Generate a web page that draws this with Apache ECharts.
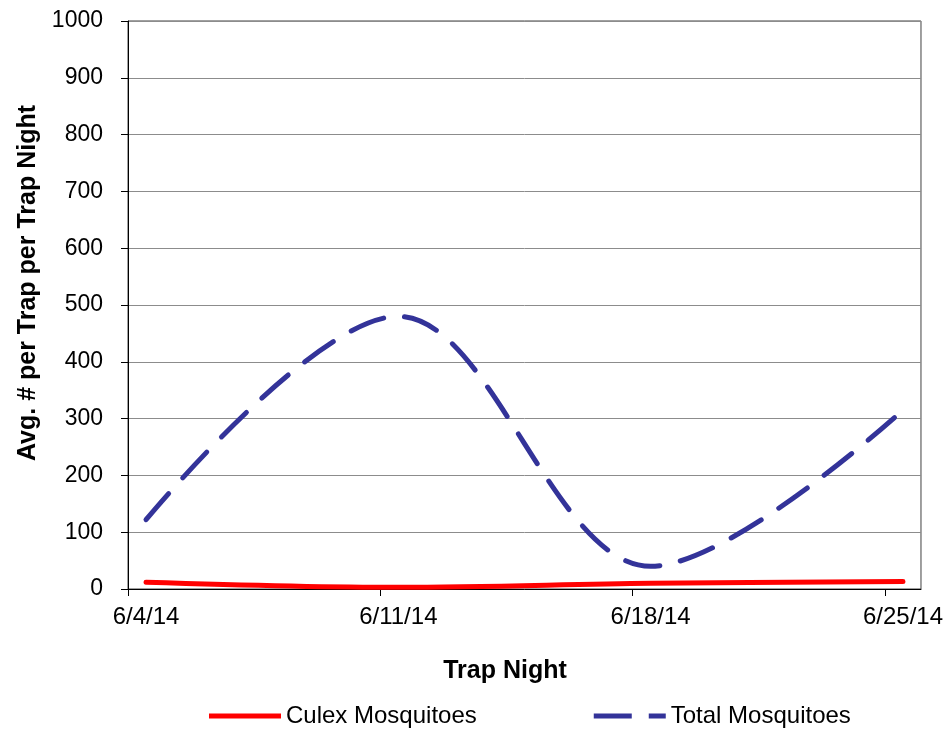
<!DOCTYPE html>
<html>
<head>
<meta charset="utf-8">
<script src="https://cdn.jsdelivr.net/npm/echarts@6/dist/echarts.min.js"></script>
<style>
  html, body { margin: 0; padding: 0; background: #fff; }
  #chart { width: 946px; height: 730px; }
</style>
</head>
<body>
<div id="chart"></div>
<script>
var trapNights = ['6/4/14', '6/11/14', '6/18/14', '6/25/14'];
var dayOffsets = [0, 7, 14, 21];   // days after 6/4/14
var culex = [12, 3, 10, 13];
var total = [122, 480, 40, 315];
var yTicks = [0, 100, 200, 300, 400, 500, 600, 700, 800, 900, 1000];

var fontFamily = '"Liberation Sans", Arial, sans-serif';

// Excel date axis: each day is a slot, the point sits in the middle of it
function toPoints(values) {
	var out = [];
	for (var i = 0; i < values.length; i++) {
		out.push([dayOffsets[i] + 0.5, values[i]]);
	}
	return out;
}

var labelPos = dayOffsets.map(function(d) { return d + 0.5; });

var myChart = echarts.init(document.getElementById('chart'));
var option = {
	animation: false,
	grid: {
		left: 128,
		right: 23,
		top: 21,
		bottom: 141,
		show: true,
		borderColor: '#404040',
		borderWidth: 1,
	},
	legend: {
		left: 204,
		top: 699,
		itemWidth: 72,
		itemHeight: 5,
		itemGap: 117,
		textStyle: { fontSize: 24, color: '#000', fontFamily: fontFamily },
		data: [
			{ name: 'Culex Mosquitoes', icon: 'path://M0,0H72V5H0Z' },
			{ name: 'Total Mosquitoes', icon: 'path://M0,0H38V5H0Z M55,0H72V5H55Z' },
		],
	},
	xAxis: {
		type: 'value',
		min: 0,
		max: 22,
		name: 'Trap Night',
		nameLocation: 'middle',
		nameGap: 70,
		nameTextStyle: {
			fontSize: 25,
			fontWeight: 'bold',
			color: '#000',
			fontFamily: fontFamily,
			padding: [0, 39, 0, 0],
		},
		axisLine: { lineStyle: { color: '#000', width: 1 } },
		axisTick: {
			show: true,
			length: 7,
			customValues: dayOffsets,
			lineStyle: { color: '#000' },
		},
		axisLabel: {
			customValues: labelPos,
			margin: 16,
			fontSize: 24,
			color: '#000',
			fontFamily: fontFamily,
			formatter: function(v) {
				var i = labelPos.indexOf(v);
				return i >= 0 ? trapNights[i] : '';
			},
		},
		splitLine: { show: false },
	},
	yAxis: {
		type: 'value',
		min: 0,
		max: 1000,
		interval: 100,
		name: 'Avg. # per Trap per Trap Night',
		nameLocation: 'middle',
		nameGap: 87,
		nameRotate: 90,
		nameTextStyle: {
			fontSize: 25,
			fontWeight: 'bold',
			color: '#000',
			fontFamily: fontFamily,
			padding: [0, 0, 0, 44],
		},
		axisLine: { show: true, lineStyle: { color: '#000', width: 1 } },
		axisTick: { show: true, length: 7, lineStyle: { color: '#000' } },
		axisLabel: {
			margin: 25,
			fontSize: 23,
			color: '#000',
			fontFamily: fontFamily,
			formatter: function(v) {
				return yTicks.indexOf(v) >= 0 ? String(v) : '';
			},
		},
		splitLine: { show: true, lineStyle: { color: '#8c8c8c', width: 1 } },
	},
	series: [
		{
			name: 'Culex Mosquitoes',
			type: 'line',
			data: toPoints(culex),
			smooth: 0.35,
			showSymbol: false,
			symbol: 'none',
			color: '#ff0000',
			lineStyle: { color: '#ff0000', width: 5, cap: 'round' },
		},
		{
			name: 'Total Mosquitoes',
			type: 'line',
			data: toPoints(total),
			smooth: 0.35,
			showSymbol: false,
			symbol: 'none',
			color: '#333399',
			lineStyle: {
				color: '#333399',
				width: 5,
				type: [35, 21],
				cap: 'round',
			},
		},
	],
};
myChart.setOption(option);
</script>
</body>
</html>
